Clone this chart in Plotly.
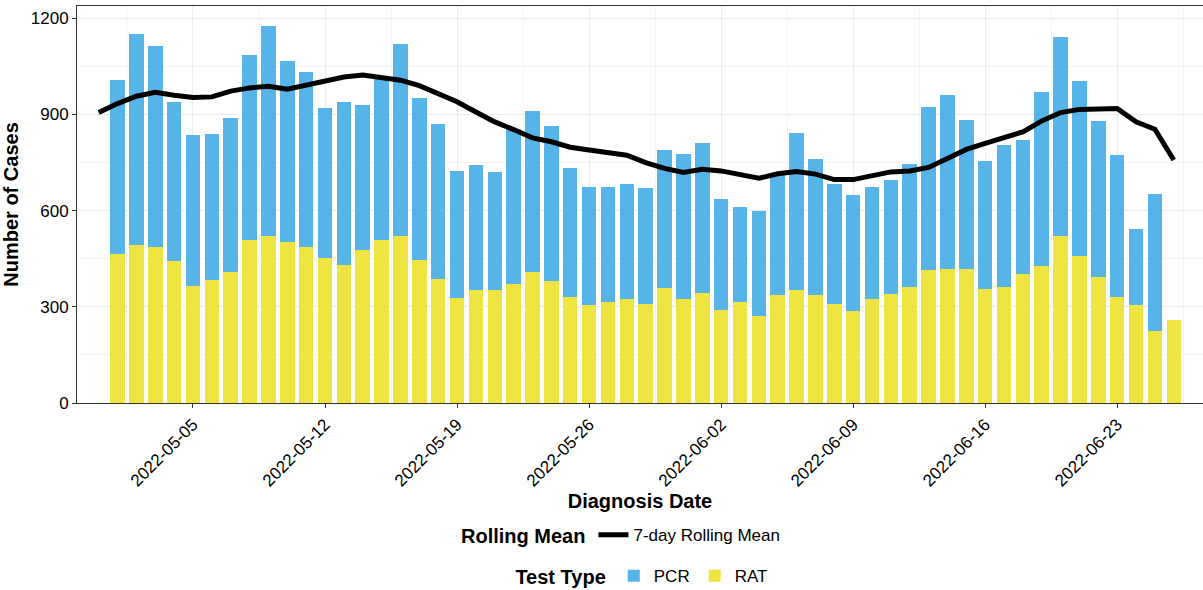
import pandas as pd
import plotly.graph_objects as go

# ---- data ----
bar_dates = pd.date_range("2022-05-01", "2022-06-26", freq="D")
line_dates = pd.date_range("2022-04-30", "2022-06-26", freq="D")

rat = [466, 494, 488, 444, 366, 385, 410, 507, 522, 502, 488, 453, 432, 476, 507, 522,
       447, 387, 327, 351, 351, 371, 408, 380, 330, 305, 316, 323, 309, 359, 323, 342,
       290, 316, 270, 338, 354, 338, 309, 288, 324, 340, 361, 416, 419, 418, 356, 361,
       401, 426, 520, 458, 394, 332, 305, 225, 260]
pcr = [541, 656, 627, 496, 469, 453, 478, 579, 654, 566, 546, 466, 506, 453, 505, 597,
       503, 482, 398, 390, 369, 485, 504, 484, 404, 370, 359, 359, 361, 429, 454, 470,
       346, 297, 329, 381, 487, 424, 373, 362, 349, 356, 385, 508, 541, 464, 398, 443,
       419, 543, 622, 545, 485, 443, 237, 427, 0]
rolling = [906, 934, 957, 969, 960, 953, 955, 973, 983, 988, 979, 992, 1005, 1017, 1023,
           1015, 1007, 990, 965, 940, 908, 877, 853, 827, 815, 798, 789, 782, 773, 750,
           732, 719, 729, 724, 713, 701, 715, 722, 714, 697, 697, 709, 721, 724, 735,
           763, 791, 810, 829, 846, 880, 906, 916, 916, 919, 877, 854, 758]

PCR_COLOR = "#56B4E9"
RAT_COLOR = "#F0E442"
DAY_MS = 86400000
FONT = "Liberation Sans, Arial, sans-serif"

fig = go.Figure()
fig.add_trace(go.Bar(x=bar_dates, y=rat, name="RAT", marker_color=RAT_COLOR,
                     marker_line_width=0, width=0.77 * DAY_MS, legend="legend2",
                     showlegend=True))
fig.add_trace(go.Bar(x=bar_dates, y=pcr, name="PCR", marker_color=PCR_COLOR,
                     marker_line_width=0, width=0.77 * DAY_MS, legend="legend2",
                     showlegend=True))
fig.add_trace(go.Scatter(x=line_dates, y=rolling, mode="lines", name="7-day Rolling Mean",
                         line=dict(color="black", width=5), legend="legend",
                         showlegend=True))

x0 = pd.Timestamp("2022-05-05") - pd.Timedelta(days=6.15)
x1 = pd.Timestamp("2022-05-05") + pd.Timedelta(days=53.55)

fig.update_layout(
    width=1203, height=590,
    margin=dict(l=77, r=0, t=6, b=187, autoexpand=False),
    paper_bgcolor="white", plot_bgcolor="white",
    barmode="stack", bargap=0,
    showlegend=True,
    font=dict(family=FONT, size=17, color="black"),
    legend=dict(orientation="h", x=0.484, xanchor="center", y=-0.333, yanchor="middle",
                itemwidth=30,
                title=dict(text="<b>Rolling Mean</b>", side="left",
                           font=dict(size=20, family=FONT, color="black")),
                font=dict(size=17, family=FONT, color="black"), bgcolor="rgba(0,0,0,0)"),
    legend2=dict(orientation="h", x=0.503, xanchor="center", y=-0.436, yanchor="middle",
                 traceorder="reversed", itemwidth=30,
                 title=dict(text="<b>Test Type</b>", side="left",
                            font=dict(size=20, family=FONT, color="black")),
                 font=dict(size=17, family=FONT, color="black"), bgcolor="rgba(0,0,0,0)"),
)

fig.update_xaxes(
    type="date", range=[x0, x1], automargin=False,
    tick0="2022-05-05", dtick=7 * DAY_MS, tickformat="%Y-%m-%d", tickangle=-45,
    ticks="outside", ticklen=4, tickcolor="#333333",
    tickfont=dict(size=17, family=FONT, color="black"),
    showgrid=True, gridcolor="#EBEBEB", gridwidth=1,
    minor=dict(tick0="2022-05-05", dtick=3.5 * DAY_MS, showgrid=True,
               gridcolor="#F3F3F3", gridwidth=0.6),
    showline=True, linecolor="#333333", linewidth=1, mirror=True,
    zeroline=False,
    title=dict(text="<b>Diagnosis Date</b>", font=dict(size=20, family=FONT, color="black"),
               standoff=0),
)
fig.update_yaxes(
    range=[0, 1238.5], tick0=0, dtick=300, automargin=False,
    ticks="outside", ticklen=4, tickcolor="#333333",
    tickfont=dict(size=17, family=FONT, color="black"),
    showgrid=True, gridcolor="#EBEBEB", gridwidth=1,
    minor=dict(dtick=150, showgrid=True, gridcolor="#F3F3F3", gridwidth=0.6),
    showline=True, linecolor="#333333", linewidth=1, mirror=True,
    zeroline=False,
    title=dict(text="<b>Number of Cases</b>", font=dict(size=20, family=FONT, color="black"),
               standoff=9),
)

fig.write_html(
    "out.html",
    config={"displayModeBar": False},
    post_script="document.body.style.margin='0';document.body.style.overflow='hidden';",
)
